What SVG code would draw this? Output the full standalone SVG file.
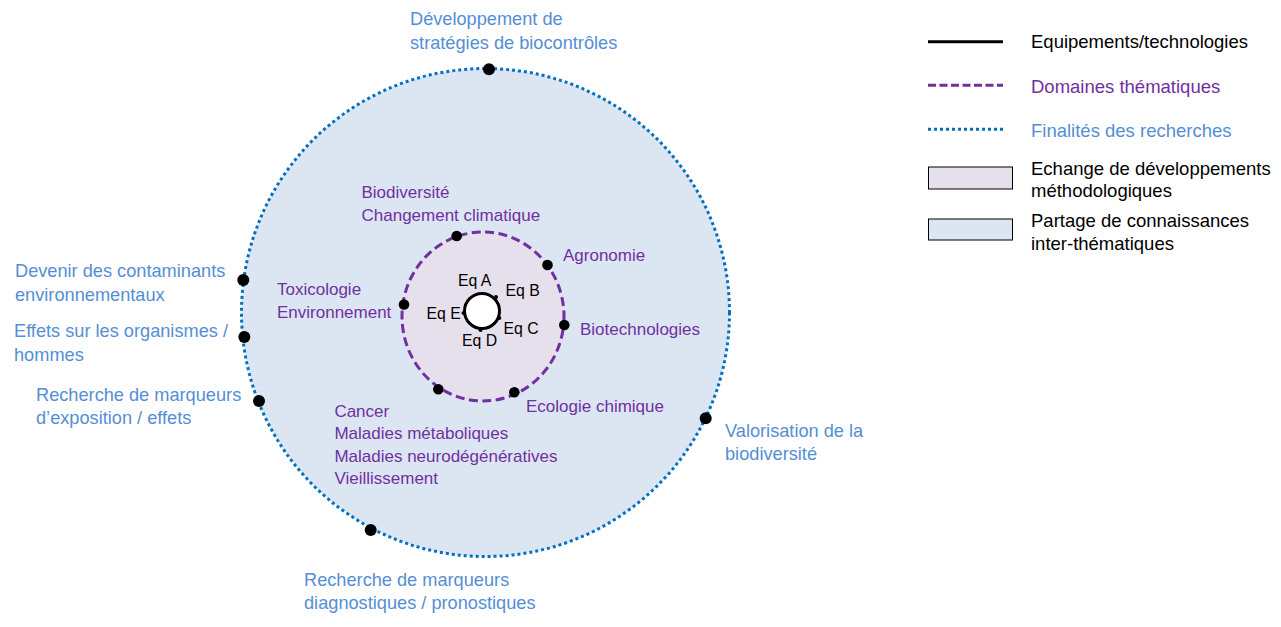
<svg xmlns="http://www.w3.org/2000/svg" width="1281" height="627" viewBox="0 0 1281 627">
<style>
text{font-family:"Liberation Sans",Arial,sans-serif}
.o{fill:#558ED5;font-size:18.2px}
.p{fill:#7030A0;font-size:17px}
.k{fill:#000;font-size:15.8px}
.l{font-size:18.5px}
.dot{fill:#000}
.outer{fill:#DCE6F2;stroke:#0070C0;stroke-width:3;stroke-dasharray:3 3}
.inner{fill:#E6E0EC;stroke:#7030A0;stroke-width:3;stroke-dasharray:9 4.5}
</style>
<rect width="1281" height="627" fill="#fff"/>
<g id="outer-ring">
<circle class="outer" cx="485.5" cy="312.5" r="244"/>
<circle class="dot" cx="489" cy="69.3" r="6"/>
<circle class="dot" cx="243.3" cy="280" r="6"/>
<circle class="dot" cx="244.3" cy="337" r="6"/>
<circle class="dot" cx="259" cy="401" r="6"/>
<circle class="dot" cx="705.7" cy="418.3" r="6"/>
<circle class="dot" cx="370.7" cy="530" r="6"/>
</g>
<g id="inner-ring">
<ellipse class="inner" cx="483" cy="316.5" rx="81" ry="84.5"/>
<circle class="dot" cx="456.7" cy="236" r="5.3"/>
<circle class="dot" cx="547.5" cy="265" r="5.3"/>
<circle class="dot" cx="404" cy="304.5" r="5.3"/>
<circle class="dot" cx="564.3" cy="325" r="5.3"/>
<circle class="dot" cx="438.3" cy="389.3" r="5.3"/>
<circle class="dot" cx="514.3" cy="392.3" r="5.3"/>
</g>
<g id="core">
<circle cx="482" cy="311" r="17.5" fill="#fff" stroke="#000" stroke-width="3"/>
<circle class="dot" cx="496" cy="297" r="2"/>
<circle class="dot" cx="499.3" cy="318" r="2"/>
<circle class="dot" cx="480.5" cy="330" r="2"/>
<circle class="dot" cx="463.5" cy="313" r="2"/>
<text class="k" x="458" y="286">Eq A</text>
<text class="k" x="505.5" y="296">Eq B</text>
<text class="k" x="503.5" y="334">Eq C</text>
<text class="k" x="462" y="346">Eq D</text>
<text class="k" x="426.5" y="319">Eq E</text>
</g>
<g id="domain-biodiversite"><text class="p" x="361.5" y="197.5">Biodiversité</text><text class="p" x="361.5" y="220.5">Changement climatique</text></g>
<g id="domain-agronomie"><text class="p" x="563" y="260.5">Agronomie</text></g>
<g id="domain-toxicologie"><text class="p" x="277" y="295">Toxicologie</text><text class="p" x="277" y="318">Environnement</text></g>
<g id="domain-biotech"><text class="p" x="580" y="335">Biotechnologies</text></g>
<g id="domain-ecologie"><text class="p" x="526" y="411.7">Ecologie chimique</text></g>
<g id="domain-sante">
<text class="p" x="334.4" y="416.7">Cancer</text>
<text class="p" x="334.4" y="439.3">Maladies métaboliques</text>
<text class="p" x="334.4" y="461.7">Maladies neurodégénératives</text>
<text class="p" x="334.4" y="484">Vieillissement</text>
</g>
<g id="fin-biocontrole"><text class="o" x="410" y="25">Développement de</text><text class="o" x="410" y="48.5">stratégies de biocontrôles</text></g>
<g id="fin-contaminants"><text class="o" x="15" y="277.3">Devenir des contaminants</text><text class="o" x="15" y="300.7">environnementaux</text></g>
<g id="fin-effets"><text class="o" x="14" y="337.3">Effets sur les organismes /</text><text class="o" x="14" y="360.7">hommes</text></g>
<g id="fin-exposition"><text class="o" x="36" y="400.7">Recherche de marqueurs</text><text class="o" x="36" y="424">d’exposition / effets</text></g>
<g id="fin-diagnostic"><text class="o" x="304" y="585.7">Recherche de marqueurs</text><text class="o" x="304" y="609">diagnostiques / pronostiques</text></g>
<g id="fin-valorisation"><text class="o" x="725" y="436.7">Valorisation de la</text><text class="o" x="725" y="460">biodiversité</text></g>
<g id="legend">
<line x1="928" y1="41.7" x2="1003" y2="41.7" stroke="#000" stroke-width="3"/>
<text class="l" x="1031" y="48.3" fill="#000">Equipements/technologies</text>
<line x1="928" y1="85.3" x2="1003" y2="85.3" stroke="#7030A0" stroke-width="3" stroke-dasharray="8 3.5"/>
<text class="l" x="1031" y="93.3" fill="#7030A0">Domaines thématiques</text>
<line x1="928" y1="129.3" x2="1003" y2="129.3" stroke="#0070C0" stroke-width="3" stroke-dasharray="3 3"/>
<text class="l" x="1031" y="137.3" fill="#558ED5">Finalités des recherches</text>
<rect x="928.5" y="167" width="84" height="22" fill="#E6E0EC" stroke="#000" stroke-width="1"/>
<text class="l" x="1031" y="175" fill="#000">Echange de développements</text>
<text class="l" x="1031" y="197.3" fill="#000">méthodologiques</text>
<rect x="928.5" y="219" width="84" height="21" fill="#DCE6F2" stroke="#000" stroke-width="1"/>
<text class="l" x="1031" y="227.3" fill="#000">Partage de connaissances</text>
<text class="l" x="1031" y="250" fill="#000">inter-thématiques</text>
</g>
</svg>
